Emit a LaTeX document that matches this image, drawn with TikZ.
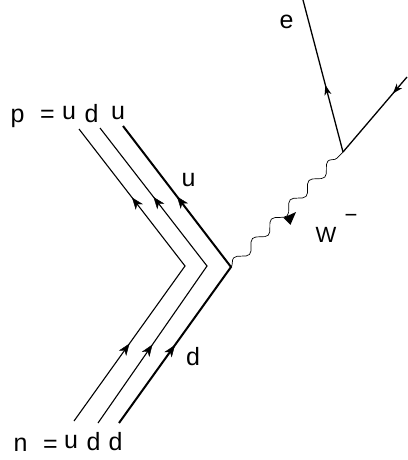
\documentclass[tikz,border=0pt]{standalone}
\usepackage{fontspec}
\setmainfont{Liberation Sans}
\usetikzlibrary{arrows.meta,decorations.markings,decorations.pathmorphing}
\begin{document}
\begin{tikzpicture}[x=1pt,y=-1pt,
  quarkline/.style={line width=1.1pt, line join=miter},
  thickline/.style={line width=2pt, line join=miter},
  midarrow/.style={postaction={decorate}, decoration={markings, mark=at position #1 with {\arrow{Stealth[length=12pt,width=9pt,inset=3.5pt]}}}},
  leparrow/.style={line width=1.3pt, postaction={decorate}, decoration={markings, mark=at position #1 with {\arrow{Stealth[length=10pt,width=7pt,inset=3pt]}}}},
  lbl/.style={inner sep=0pt, font=\fontsize{25}{30}\selectfont},
]
\useasboundingbox (0,0) rectangle (407,460);
% quark line vertices
\coordinate (t1) at (79,129);  \coordinate (v1) at (185,266); \coordinate (b1) at (74,421);
\coordinate (t2) at (100,128); \coordinate (v2) at (207,266); \coordinate (b2) at (98,423);
\coordinate (t3) at (123,126); \coordinate (v3) at (231,267); \coordinate (b3) at (119,423);
\draw[quarkline] (b1) -- (v1) -- (t1);
\draw[quarkline] (b2) -- (v2) -- (t2);
\draw[thickline] (b3) -- (v3) -- (t3);
\foreach \i in {1,2,3}{
  \path[midarrow=0.5] (b\i) -- (v\i);
  \path[midarrow=0.5] (v\i) -- (t\i);
}
% W boson
\coordinate (ev) at (343,152);
\draw[line width=0.7pt, decorate, decoration={snake, segment length=27pt, amplitude=4.5pt}] (v3) -- (ev);
\coordinate (watip) at (296,212);
\coordinate (wac1) at (290.5,224.8);
\coordinate (wac2) at (283.3,217.8);
\fill (watip) -- (wac2) -- (wac1) -- cycle;
% leptons
\coordinate (et) at (303,0);
\coordinate (en) at (407,77);
\draw[leparrow=0.44] (ev) -- (et);
\draw[leparrow=0.22] (en) -- (ev);
% labels
\node[lbl] (lp) at (17.5,118.5) {p};
\node[lbl] (lpeq) at (47.5,116) {=};
\node[lbl] (lpu1) at (69,113.5) {u};
\node[lbl] (lpd) at (91.5,113.5) {d};
\node[lbl] (lpu2) at (118,113.5) {u};
\node[lbl] (ln) at (20.5,445) {n};
\node[lbl] (lneq) at (50.5,446) {=};
\node[lbl] (lnu) at (71,442.5) {u};
\node[lbl] (lnd1) at (93.5,442) {d};
\node[lbl] (lnd2) at (115.5,442) {d};
\node[lbl] (le) at (286.5,22) {e};
\node[lbl] (lu) at (188.5,180) {u};
\node[lbl] (ld) at (193,357) {d};
\node[lbl, font=\fontsize{22}{26}\selectfont] (lW) at (326,234.5) {W};
\node[lbl, font=\fontsize{22}{26}\selectfont] (lminus) at (351,218) {−};
\end{tikzpicture}
\end{document}
